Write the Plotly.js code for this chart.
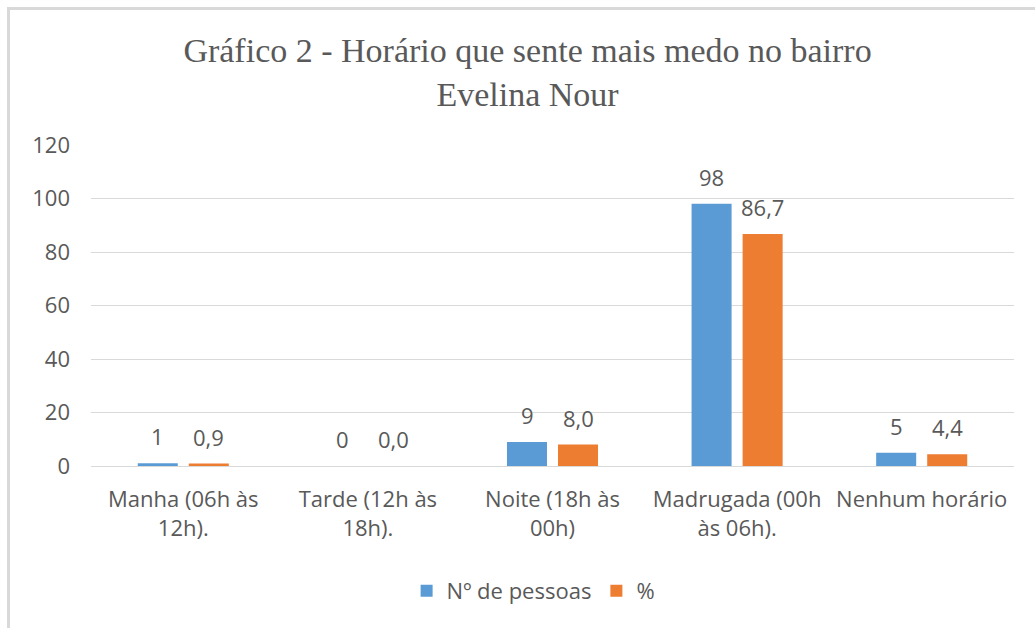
<!DOCTYPE html>
<html>
<head>
<meta charset="utf-8">
<script src="https://cdn.plot.ly/plotly-3.0.1.min.js"></script>
<style>
  body { margin: 0; background: #ffffff; }
  #wrap { position: relative; width: 1035px; height: 628px; overflow: hidden; }
  #chart { position: absolute; left: 0; top: 0; width: 1035px; height: 628px; }
  #frame { position: absolute; left: 7px; top: 7px; width: 1030px; height: 630px;
           border-top: 3px solid #d9d9d9; border-left: 3px solid #d9d9d9; pointer-events: none; }
</style>
</head>
<body>
<div id="wrap">
  <div id="chart"></div>
  <div id="frame"></div>
</div>
<script>
const categories = [
  "Manha (06h às<br>12h).",
  "Tarde (12h às<br>18h).",
  "Noite (18h às<br>00h)",
  "Madrugada (00h<br>às 06h).",
  "Nenhum horário"
];
const seriesNames = ["Nº de pessoas", "%"];
const pessoas = [1, 0, 9, 98, 5];
const percent = [0.9, 0.0, 8.0, 86.7, 4.4];
const yTicks = [0, 20, 40, 60, 80, 100, 120];

const BLUE = "#5b9bd5", ORANGE = "#ed7d31", GREY = "#595959";
const FONT = "'Open Sans', 'Noto Sans', sans-serif";

const fmtInt = v => String(Math.round(v));
const fmtDec = v => v.toFixed(1).replace(".", ",");

const traces = [
  { type: "bar", name: seriesNames[0], x: categories, y: pessoas, marker: { color: BLUE }, hoverinfo: "none" },
  { type: "bar", name: seriesNames[1], x: categories, y: percent, marker: { color: ORANGE }, hoverinfo: "none" }
];

const annotations = [];
categories.forEach((c, i) => {
  annotations.push({ x: c, y: pessoas[i], xref: "x", yref: "y", text: fmtInt(pessoas[i]),
    showarrow: false, xshift: -25.5, yshift: 27, yanchor: "middle",
    font: { family: FONT, size: 22, color: GREY } });
  annotations.push({ x: c, y: percent[i], xref: "x", yref: "y", text: fmtDec(percent[i]),
    showarrow: false, xshift: 25.5, yshift: 27, yanchor: "middle",
    font: { family: FONT, size: 22, color: GREY } });
});

const layout = {
  width: 1035, height: 628,
  paper_bgcolor: "rgba(0,0,0,0)", plot_bgcolor: "rgba(0,0,0,0)",
  margin: { l: 91, r: 21, t: 145, b: 162 },
  font: { family: FONT, color: GREY, size: 22 },
  title: {
    text: "Gráfico 2 - Horário que sente mais medo no bairro<br>Evelina Nour",
    font: { family: "'Liberation Serif', 'DejaVu Serif', serif", size: 34, color: GREY },
    x: 0.5097, xref: "container", xanchor: "center",
    y: 0.902, yref: "container", yanchor: "middle"
  },
  barmode: "group", bargap: 0.447, bargroupgap: 0.216,
  xaxis: {
    type: "category", showgrid: false, zeroline: false, showline: false, ticks: "",
    tickfont: { family: FONT, size: 22, color: GREY }, ticklabelstandoff: 18
  },
  yaxis: {
    range: [0, 120], tickvals: yTicks, ticktext: yTicks.map(String),
    showgrid: true, gridcolor: "#d9d9d9", gridwidth: 1, zeroline: true, zerolinecolor: "#d9d9d9",
    showline: false, ticks: "", tickfont: { family: FONT, size: 22, color: GREY }, ticklabelstandoff: 20
  },
  showlegend: true,
  legend: {
    orientation: "h", x: 0.479, xanchor: "center", y: -0.389, yanchor: "middle",
    font: { family: FONT, size: 22, color: GREY }, itemwidth: 30, traceorder: "normal"
  },
  annotations: annotations
};

Plotly.newPlot("chart", traces, layout, { displayModeBar: false, staticPlot: true });
</script>
</body>
</html>
